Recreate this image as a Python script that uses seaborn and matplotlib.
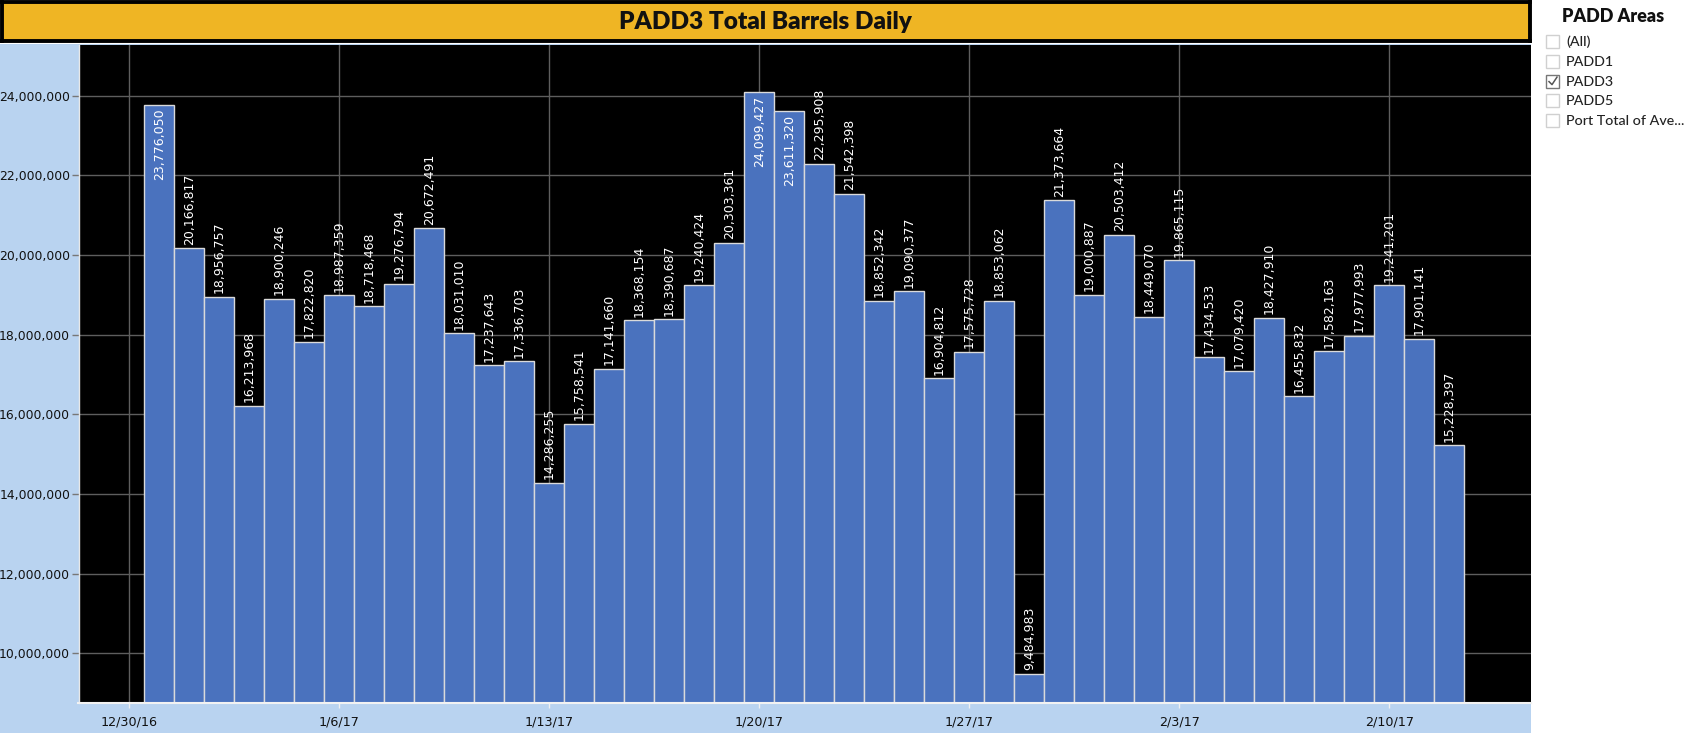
import matplotlib
matplotlib.use("Agg")
import matplotlib.pyplot as plt
import seaborn as sns
import pandas as pd
from matplotlib.patches import Rectangle
from matplotlib.lines import Line2D

# ---------------- data ----------------
dates = ["2016-12-31", "2017-01-01", "2017-01-02", "2017-01-03", "2017-01-04",
         "2017-01-05", "2017-01-06", "2017-01-07", "2017-01-08", "2017-01-09",
         "2017-01-10", "2017-01-11", "2017-01-12", "2017-01-13", "2017-01-14",
         "2017-01-15", "2017-01-16", "2017-01-17", "2017-01-18", "2017-01-19",
         "2017-01-20", "2017-01-21", "2017-01-22", "2017-01-23", "2017-01-24",
         "2017-01-25", "2017-01-26", "2017-01-27", "2017-01-28", "2017-01-29",
         "2017-01-30", "2017-01-31", "2017-02-01", "2017-02-02", "2017-02-03",
         "2017-02-04", "2017-02-05", "2017-02-06", "2017-02-07", "2017-02-08",
         "2017-02-09", "2017-02-10", "2017-02-11", "2017-02-12"]
barrels = [23776050, 20166817, 18956757, 16213968, 18900246,
           17822820, 18987359, 18718468, 19276794, 20672491,
           18031010, 17237643, 17336703, 14286255, 15758541,
           17141660, 18368154, 18390687, 19240424, 20303361,
           24099427, 23611320, 22295908, 21542398, 18852342,
           19090377, 16904812, 17575728, 18853062, 9484983,
           21373664, 19000887, 20503412, 18449070, 19865115,
           17434533, 17079420, 18427910, 16455832, 17582163,
           17977993, 19241201, 17901141, 15228397]
tick_dates = ["2016-12-30", "2017-01-06", "2017-01-13", "2017-01-20",
              "2017-01-27", "2017-02-03", "2017-02-10"]
tick_labels = ["12/30/16", "1/6/17", "1/13/17", "1/20/17", "1/27/17", "2/3/17", "2/10/17"]
y_ticks = [10000000, 12000000, 14000000, 16000000, 18000000, 20000000, 22000000, 24000000]
title = "PADD3 Total Barrels Daily"
legend_title = "PADD Areas"
legend_items = ["(All)", "PADD1", "PADD3", "PADD5", "Port Total of Ave..."]
legend_checked = ["PADD3"]

# ---------------- layout ----------------
W, H = 1689, 736
origin = pd.Timestamp("2016-12-30")
df = pd.DataFrame({"date": pd.to_datetime(dates), "barrels": barrels})
df["day"] = (df["date"] - origin).dt.days
tick_pos = [(pd.Timestamp(d) - origin).days for d in tick_dates]

BAR = "#4A72BE"
GOLD = "#EFB524"
PANE = "#B9D3F0"
GRID = "#5E5E5E"

fig = plt.figure(figsize=(W / 100, H / 100), dpi=100)
fig.patch.set_facecolor("white")

def fx(px):
    return px / W

def fy(py):
    return 1 - py / H

# light-blue pane behind the chart
pane = Rectangle((0, fy(733)), fx(1531), fy(44) - fy(733),
                 transform=fig.transFigure, facecolor=PANE,
                 edgecolor="none", zorder=-10)
fig.patches.append(pane)

ax = fig.add_axes([fx(78.5), fy(703.3), fx(1531) - fx(78.5), fy(45) - fy(703.3)])
ax.set_zorder(1)
ax.set_facecolor("black")

sns.barplot(data=df, x="day", y="barrels", native_scale=True, width=1,
            color=BAR, saturation=1, edgecolor="#DADADA", linewidth=1,
            errorbar=None, ax=ax)

ax.set_xlim(-1.69, 46.72)
ax.set_ylim(8745000, 25273000)
ax.set_xticks(tick_pos)
ax.set_xticklabels(tick_labels)
ax.set_yticks(y_ticks)
ax.set_yticklabels([f"{v:,}" for v in y_ticks])
ax.set_xlabel("")
ax.set_ylabel("")
ax.grid(True, color=GRID, linewidth=1)
ax.set_axisbelow(True)

for s in ["top", "right"]:
    ax.spines[s].set_visible(False)
ax.spines["bottom"].set_color("#F2F2F2")
ax.spines["bottom"].set_linewidth(1.5)
ax.spines["left"].set_color("#E8E8E8")
ax.spines["left"].set_linewidth(1)

ax.tick_params(axis="y", length=5, width=1, color="#777777", pad=1,
               labelsize=8.9, labelcolor="#111111")
ax.tick_params(axis="x", length=3.5, width=1, color="#F0F0F0", pad=5,
               labelsize=9.2, labelcolor="#111111")

# value labels (rotated), above the bar unless they would not fit
ymax = ax.get_ylim()[1]
label_len = 1850000
for d, v in zip(df["day"], df["barrels"]):
    txt = f"{v:,}"
    if v + label_len < ymax:
        ax.annotate(txt, (d, v), xytext=(0, 2.5), textcoords="offset points",
                    rotation=90, ha="center", va="bottom", color="white",
                    fontsize=9)
    else:
        ax.annotate(txt, (d, v), xytext=(0, -3), textcoords="offset points",
                    rotation=90, ha="center", va="top", color="white",
                    fontsize=9)

# title bar
tax = fig.add_axes([fx(1.5), fy(41), fx(1529.5) - fx(1.5), fy(1.5) - fy(41)])
tax.set_zorder(2)
tax.set_facecolor(GOLD)
tax.set_xticks([])
tax.set_yticks([])
for s in tax.spines.values():
    s.set_color("black")
    s.set_linewidth(2.8)
tax.text(0.5, 0.47, title, ha="center", va="center", fontsize=17.6,
         fontweight="heavy", family="Lato", color="#111111", transform=tax.transAxes)

# legend / filter panel
fig.text(fx(1613), fy(16), legend_title, ha="center", va="center",
         fontsize=13, fontweight="heavy", family="Lato", color="#111111")
for i, item in enumerate(legend_items):
    yc = 41.5 + 19.8 * i
    checked = item in legend_checked
    fig.patches.append(Rectangle((fx(1546), fy(yc + 6.5)), fx(13), fy(yc - 6.5) - fy(yc + 6.5),
                                 transform=fig.transFigure, facecolor="white",
                                 edgecolor="#777777" if checked else "#D0D0D0",
                                 linewidth=1))
    if checked:
        fig.lines.append(Line2D([fx(1549), fx(1552), fx(1557)],
                                [fy(yc + 0.5), fy(yc + 3.5), fy(yc - 4)],
                                transform=fig.transFigure, color="#555555",
                                linewidth=1.1))
    fig.text(fx(1566), fy(yc + 0.5), item, ha="left", va="center",
             fontsize=10.3, family="Lato", fontweight="medium", color="#222222")

fig.savefig("out.png", dpi=100, facecolor="white")
